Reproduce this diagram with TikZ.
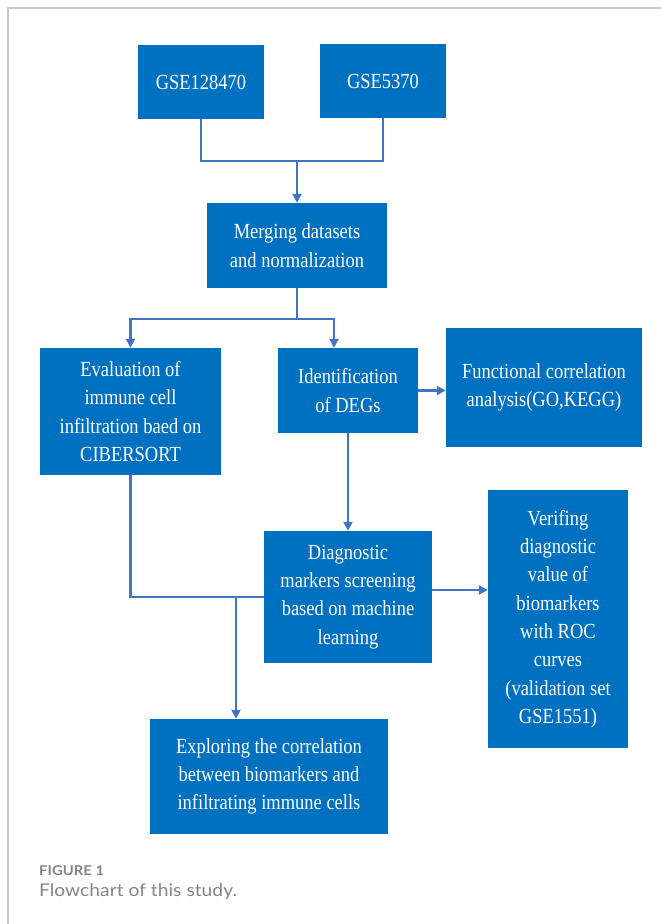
\documentclass[tikz,border=0pt]{standalone}
\usepackage{fontspec}
\setmainfont{Liberation Serif}
\newfontfamily\boxfont[FakeStretch=0.86]{Liberation Serif}
\newfontfamily\capfont[FakeStretch=1.1]{Lato}
\usetikzlibrary{arrows.meta}
\definecolor{boxblue}{HTML}{0070C0}
\definecolor{lineblue}{HTML}{4472C4}
\definecolor{capgray}{HTML}{858585}
\definecolor{framegray}{HTML}{C8C8C8}
\tikzstyle{box} = [rectangle, fill=boxblue, text=white, align=center, inner sep=0pt, font=\boxfont\fontsize{21.5}{28.3}\selectfont]
\tikzstyle{line} = [draw=lineblue, line width=2.2pt]
\tikzstyle{arrow} = [line, -{Triangle[length=9pt,width=9pt]}]
\tikzstyle{caption} = [anchor=base west, inner sep=0pt, text=capgray]

\begin{document}
\begin{tikzpicture}[x=1pt, y=-1pt]
            \useasboundingbox (0,0) rectangle (661,924);
            \fill[white] (0,0) rectangle (661,924);
            \draw[framegray, line width=1.5pt] (8,924) -- (8,8) -- (661,8);

            \node(gse1) [box, minimum width=126pt, minimum height=74pt] at (201,82) {GSE128470};
            \node(gse2) [box, minimum width=126pt, minimum height=74pt] at (383,81) {GSE5370};
            \node(merge) [box, minimum width=180pt, minimum height=85pt] at (297,245.5) {Merging datasets\\and normalization};
            \node(eval) [box, minimum width=181pt, minimum height=127pt] at (130.5,411.5) {Evaluation of\\immune cell\\infiltration baed on\\CIBERSORT};
            \node(ident) [box, minimum width=140pt, minimum height=85pt] at (348,390.5) {Identification\\of DEGs};
            \node(func) [box, minimum width=196pt, minimum height=119pt] at (544,387.5) {Functional correlation\\analysis(GO,KEGG)};
            \node(diag) [box, minimum width=168pt, minimum height=132pt] at (348,597) {Diagnostic\\markers screening\\based on machine\\learning};
            \node(verif) [box, minimum width=140pt, minimum height=258pt] at (558,619) {Verifing\\diagnostic\\value of\\biomarkers\\with ROC\\curves\\(validation set\\GSE1551)};
            \node(explore) [box, minimum width=238pt, minimum height=115pt] at (269,776.5) {Exploring the correlation\\between biomarkers and\\infiltrating immune cells};

            \coordinate(split1) at (297,161);
            \coordinate(split2) at (297,319);
            \coordinate(split3) at (236,597);

            \draw[line] (gse1.south) |- (split1) -| (gse2.south);
            \draw[arrow] (split1) -- (merge.north);

            \draw[line] (merge.south) -- (split2);
            \draw[arrow] (split2) -| (eval.north);
            \draw[arrow] (split2) -| ([xshift=-14pt]ident.north);

            \draw[arrow] (ident.east) -- (ident.east -| func.west);
            \draw[arrow] (ident.south) -- (diag.north);

            \draw[line] (eval.south) |- (diag.west);
            \draw[arrow] (split3) -- (split3 |- explore.north);
            \draw[arrow] ([yshift=7pt]diag.east) -- ([yshift=7pt]diag.east -| verif.west);

            \node(figlabel) [caption, font=\capfont\bfseries\fontsize{13.5}{16}\selectfont] at (39,875) {FIGURE 1};
            \node(figtext) [caption, font=\capfont\fontsize{17.5}{20}\selectfont] at (39,896) {Flowchart of this study.};
        \end{tikzpicture}
\end{document}
